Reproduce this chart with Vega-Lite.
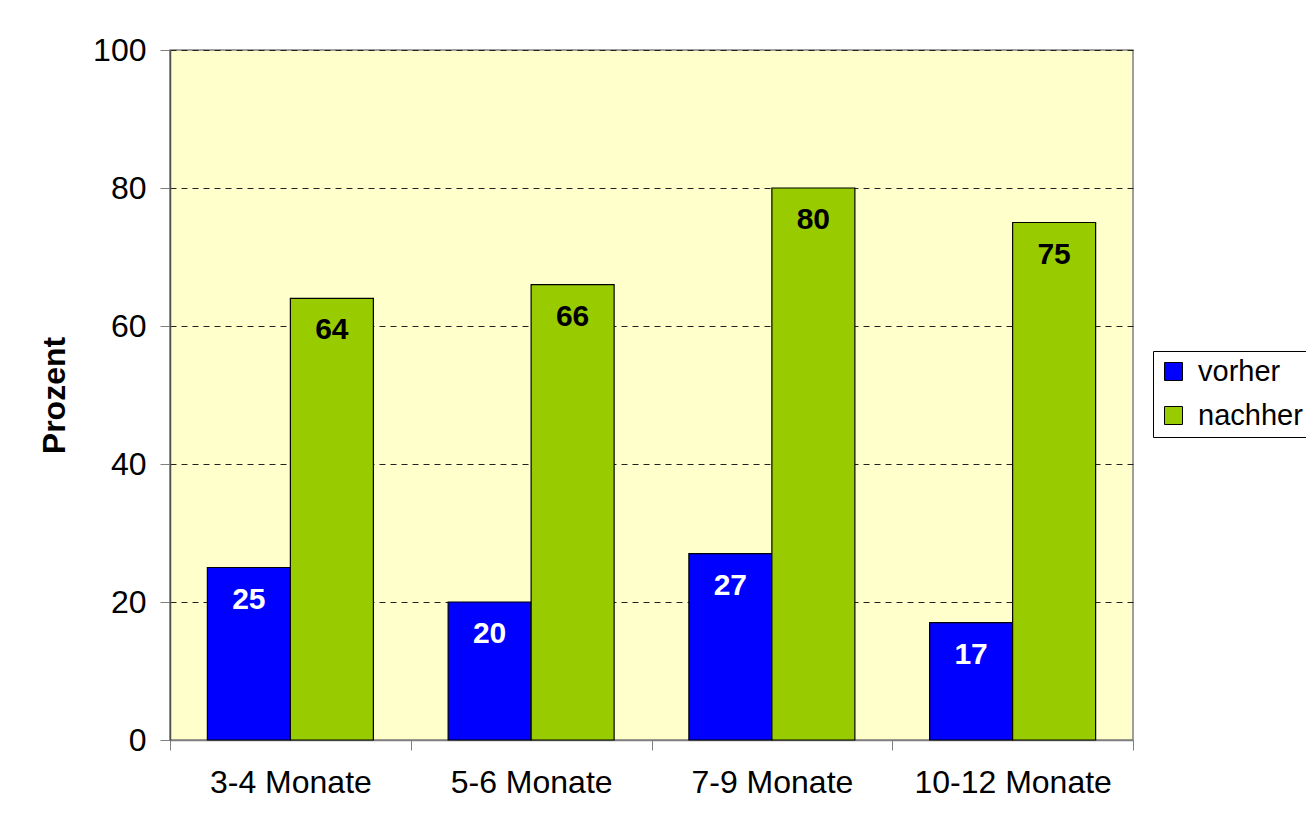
{
  "$schema": "https://vega.github.io/schema/vega-lite/v6.json",
  "autosize": "none",
  "width": 963,
  "height": 690,
  "padding": {"left": 170, "top": 50, "right": 173, "bottom": 87},
  "background": "white",
  "config": {
    "font": "Liberation Sans",
    "view": {"fill": "#FFFFCC", "stroke": "#808080", "strokeWidth": 1.5}
  },
  "data": {
    "values": [
      {"cat": "3-4 Monate", "series": "vorher", "value": 25},
      {"cat": "3-4 Monate", "series": "nachher", "value": 64},
      {"cat": "5-6 Monate", "series": "vorher", "value": 20},
      {"cat": "5-6 Monate", "series": "nachher", "value": 66},
      {"cat": "7-9 Monate", "series": "vorher", "value": 27},
      {"cat": "7-9 Monate", "series": "nachher", "value": 80},
      {"cat": "10-12 Monate", "series": "vorher", "value": 17},
      {"cat": "10-12 Monate", "series": "nachher", "value": 75}
    ]
  },
  "encoding": {
    "x": {
      "field": "cat",
      "type": "nominal",
      "sort": ["3-4 Monate", "5-6 Monate", "7-9 Monate", "10-12 Monate"],
      "scale": {"paddingInner": 0, "paddingOuter": 0},
      "axis": {
        "title": null,
        "labelAngle": 0,
        "labelFontSize": 32,
        "labelColor": "black",
        "labelPadding": 17,
        "labelLimit": 0,
        "labelOverlap": false,
        "tickBand": "extent",
        "tickSize": 10,
        "tickColor": "#808080",
        "domainColor": "#808080",
        "domainWidth": 1.5
      }
    },
    "xOffset": {
      "field": "series",
      "sort": ["vorher", "nachher"],
      "scale": {"paddingInner": 0, "paddingOuter": 0.4503}
    },
    "y": {
      "field": "value",
      "type": "quantitative",
      "scale": {"domain": [0, 100], "nice": false},
      "axis": {
        "title": "Prozent",
        "titleFontSize": 32,
        "titleFontWeight": "bold",
        "titleColor": "black",
        "titlePadding": 21,
        "values": [0, 20, 40, 60, 80, 100],
        "labelFontSize": 32,
        "labelColor": "black",
        "labelPadding": 14,
        "tickSize": 10,
        "tickColor": "#808080",
        "domainColor": "#505050",
        "domainWidth": 1.5,
        "grid": true,
        "gridColor": "#222222",
        "gridDash": [6, 5],
        "gridWidth": 1
      }
    }
  },
  "layer": [
    {
      "mark": {"type": "bar", "stroke": "black", "strokeWidth": 1.2},
      "encoding": {
        "color": {
          "field": "series",
          "type": "nominal",
          "sort": ["vorher", "nachher"],
          "scale": {"domain": ["vorher", "nachher"], "range": ["#0000FF", "#99CC00"]},
          "legend": {
            "title": null,
            "orient": "none",
            "legendX": 983,
            "legendY": 301,
            "direction": "vertical",
            "symbolType": "square",
            "symbolSize": 324,
            "symbolStrokeColor": "black",
            "symbolStrokeWidth": 1,
            "labelFontSize": 29,
            "labelColor": "black",
            "labelOffset": 10,
            "rowPadding": 14,
            "padding": 6,
            "strokeColor": "black",
            "fillColor": "white"
          }
        }
      }
    },
    {
      "mark": {"type": "text", "baseline": "middle", "align": "center", "dy": 32, "fontSize": 30, "fontWeight": "bold"},
      "encoding": {
        "text": {"field": "value", "type": "quantitative"},
        "color": {"condition": {"test": "datum.series === 'vorher'", "value": "white"}, "value": "black"}
      }
    }
  ]
}
